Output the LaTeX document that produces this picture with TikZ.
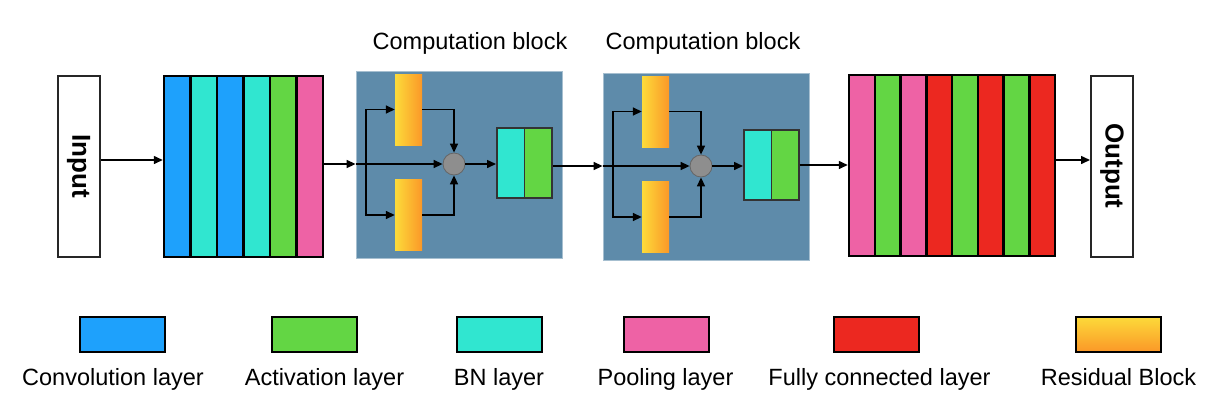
\documentclass[tikz,border=0pt]{standalone}
\usepackage{fontspec}
\setmainfont{Liberation Sans}
\usetikzlibrary{arrows.meta}
\definecolor{convblue}{HTML}{1EA1FC}
\definecolor{bnteal}{HTML}{30E6D0}
\definecolor{actgreen}{HTML}{63D644}
\definecolor{poolpink}{HTML}{EE62A5}
\definecolor{fcred}{HTML}{EC2820}
\definecolor{resyellow}{HTML}{FCDB3A}
\definecolor{resorange}{HTML}{FB9828}
\definecolor{blockblue}{HTML}{5E8BAA}
\definecolor{addgray}{HTML}{8E8E8E}
\tikzset{
  layer/.style={draw=black, line width=2.5pt, inner sep=0pt, minimum height=181pt},
  iobox/.style={draw=black!85, line width=2pt, fill=white, inner sep=0pt, minimum width=42pt, minimum height=181pt},
  resblock/.style={left color=resyellow, right color=resorange, inner sep=0pt, minimum width=27pt, minimum height=71pt},
  bnbox/.style={draw=black!80, line width=1.5pt, inner sep=0pt, minimum width=27.5pt, minimum height=70pt},
  addnode/.style={circle, fill=addgray, draw=black!60, line width=0.8pt, inner sep=0pt, minimum size=22pt},
  arr/.style={-{Triangle[length=9pt,width=8pt]}, line width=1.5pt},
  legbox/.style={draw=black, line width=2pt, inner sep=0pt, minimum width=85pt, minimum height=35pt},
  legtext/.style={anchor=base, inner sep=0pt}
}

\begin{document}
\begin{tikzpicture}[x=1pt, y=-1pt, font=\fontsize{23.5}{28}\selectfont]
    \useasboundingbox (0,0) rectangle (1212,416); % same size as the image

    % input and output
    \node[iobox] (in) at (78.5,166) {};
    \node[rotate=-90, font=\fontsize{26}{30}\selectfont\bfseries] (in-text) at (in) {Input};
    \node[iobox] (out) at (1112,166) {};
    \node[rotate=-90, font=\fontsize{26}{30}\selectfont\bfseries] (out-text) at (out) {Output};

    % first layer stack
    \foreach \c [count=\i] in {convblue,bnteal,convblue,bnteal,actgreen,poolpink}
      \node[layer, fill=\c, minimum width=26.5pt] (s1-\i) at ({164+26.5*(\i-0.5)},166.5) {};

    % last layer stack
    \foreach \c [count=\i] in {poolpink,actgreen,poolpink,fcred,actgreen,fcred,actgreen,fcred}
      \node[layer, fill=\c, minimum width=25.75pt] (s3-\i) at ({849+25.75*(\i-0.5)},165.5) {};

    % computation blocks
    \foreach \b/\dx/\dy in {1/0/0, 2/247/2} {
      \node[fill=blockblue, draw=blockblue!55!white, line width=0.8pt, inner sep=0pt,
            minimum width=206pt, minimum height=187pt] (cb\b) at ({459+\dx},{164.5+\dy}) {};
      \node (t\b) at ({470+233*(\b-1)},43) {Computation block};
      \coordinate (j\b) at ({366+\dx},{164+\dy});
      \node[resblock] (r\b a) at ({408.5+\dx},{109.5+\dy}) {};
      \node[resblock] (r\b b) at ({408.5+\dx},{215+\dy}) {};
      \node[addnode] (c\b) at ({454+\dx},{164+\dy}) {};
      \node[bnbox, fill=bnteal] (bn\b) at ({510.5+\dx},{163+\dy}) {};
      \node[bnbox, fill=actgreen] (ac\b) at ({538+\dx},{163+\dy}) {};
      \draw[arr] (cb\b.west |- c\b) -- (c\b.west);
      \draw[arr] (j\b) |- (r\b a.west);
      \draw[arr] (j\b) |- (r\b b.west);
      \draw[arr] (r\b a.east) -| (c\b.north);
      \draw[arr] (r\b b.east) -| (c\b.south);
      \draw[arr] (c\b.east) -- (bn\b.west |- c\b);
    }

    % connections between the parts
    \draw[arr] ([yshift=6pt]in.east) -- ([yshift=6pt]in.east -| s1-1.west);
    \draw[arr] (s1-6.east |- c1) -- (cb1.west |- c1);
    \draw[arr] (ac1.east |- c2) -- (cb2.west |- c2);
    \draw[arr] (ac2.east) -- (ac2.east -| s3-1.west);
    \draw[arr] ([yshift=5.5pt]s3-8.east) -- ([yshift=5.5pt]s3-8.east -| out.west);

    % legend
    \node[legbox, fill=convblue] (lg-conv) at (122,334) {};
    \node[legbox, fill=actgreen] (lg-act) at (314,334) {};
    \node[legbox, fill=bnteal] (lg-bn) at (499,334) {};
    \node[legbox, fill=poolpink] (lg-pool) at (666.5,334) {};
    \node[legbox, fill=fcred] (lg-fc) at (876.5,334) {};
    \node[legbox, top color=resyellow, bottom color=resorange] (lg-res) at (1118.5,334) {};
    \node[legtext] (lt-conv) at (113,385) {Convolution layer};
    \node[legtext] (lt-act) at (324.5,385) {Activation layer};
    \node[legtext] (lt-bn) at (499,385) {BN layer};
    \node[legtext] (lt-pool) at (665.5,385) {Pooling layer};
    \node[legtext] (lt-fc) at (879.5,385) {Fully connected layer};
    \node[legtext] (lt-res) at (1118.5,385) {Residual Block};
  \end{tikzpicture}
\end{document}
